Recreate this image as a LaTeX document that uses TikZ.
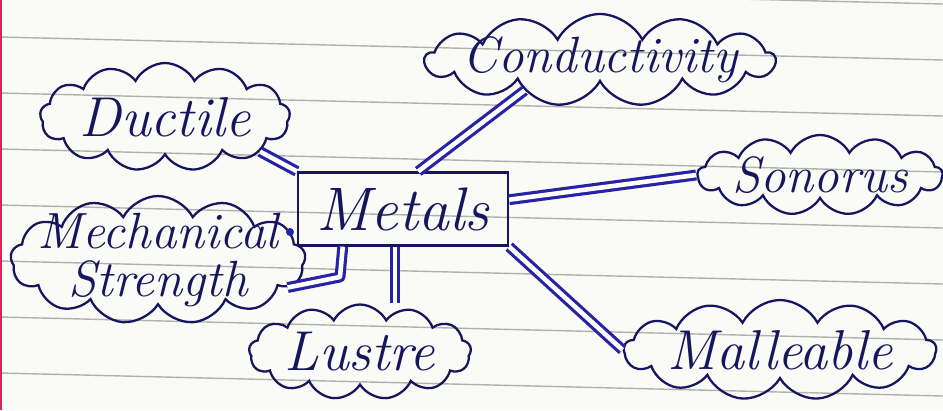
\documentclass[tikz,border=0pt]{standalone}
\usepackage{tikz}
\usetikzlibrary{shapes,positioning}
\definecolor{ink}{RGB}{38,36,165}
\definecolor{darkink}{RGB}{22,22,95}
\definecolor{paper}{RGB}{250,250,247}
\definecolor{rule}{RGB}{178,178,172}
\definecolor{margin}{RGB}{215,40,90}

\begin{document}
\begin{tikzpicture}[x=0.02cm,y=-0.02cm,
    idea/.style={cloud, cloud puffs=13, cloud puff arc=125, cloud ignores aspect,
      draw=darkink, line width=1.3pt, inner sep=0pt},
    word/.style={text=darkink, font=\fontsize{29}{27}\selectfont\itshape, align=center},
    conn/.style={draw=ink, line width=1.8pt, double=white, double distance=2.6pt, line join=round}]
  \useasboundingbox (0,0) rectangle (943,410);
  \fill[paper] (0,0) rectangle (943,410);
  \foreach \k in {-1,...,7}
    \draw[rule, line width=0.8pt] (0,37+56*\k) -- (943,60+56*\k);
  \draw[margin, line width=1pt] (1,0) -- (1,410);

  \node[draw=darkink, line width=1.3pt, minimum width=4.2cm, minimum height=1.46cm,
    text=darkink, font=\fontsize{35}{35}\selectfont\itshape] (metals) at (403,209) {Metals};

  \node[idea, minimum width=5cm, minimum height=2.16cm,
    label={[word, font=\fontsize{32}{32}\selectfont\itshape]center:Ductile}] (ductile) at (165,117) {};
  \node[idea, minimum width=7cm, minimum height=1.84cm,
    label={[word]center:Conductivity}] (conductivity) at (600,60) {};
  \node[idea, minimum width=4.9cm, minimum height=1.6cm,
    label={[word]center:Sonorus}] (sonorus) at (820,175) {};
  \node[idea, minimum width=5.9cm, minimum height=2.56cm,
    label={[word]center:Mechanical\\Strength}] (mech) at (158,260) {};
  \node[idea, minimum width=4.44cm, minimum height=1.9cm,
    label={[word, font=\fontsize{32}{32}\selectfont\itshape]center:Lustre}] (lustre) at (360,352) {};
  \node[idea, minimum width=6.24cm, minimum height=2cm,
    label={[word, font=\fontsize{32}{32}\selectfont\itshape]center:Malleable}] (malleable) at (780,350) {};

  \coordinate (mbend) at (340,277);
  \path
    (ductile.-20) edge[conn] (metals.north west)
    (metals.68) edge[conn] (conductivity.-158)
    (metals.5) edge[conn] (sonorus.west)
    (metals.south east) edge[conn] (malleable.west)
    (metals.-102) edge[conn] (metals.-102 |- lustre.north);
  \draw[conn] (metals.-148) -- (mbend) -- (mech.-12);
  \fill[ink] (290,232) circle (4);
\end{tikzpicture}
\end{document}
